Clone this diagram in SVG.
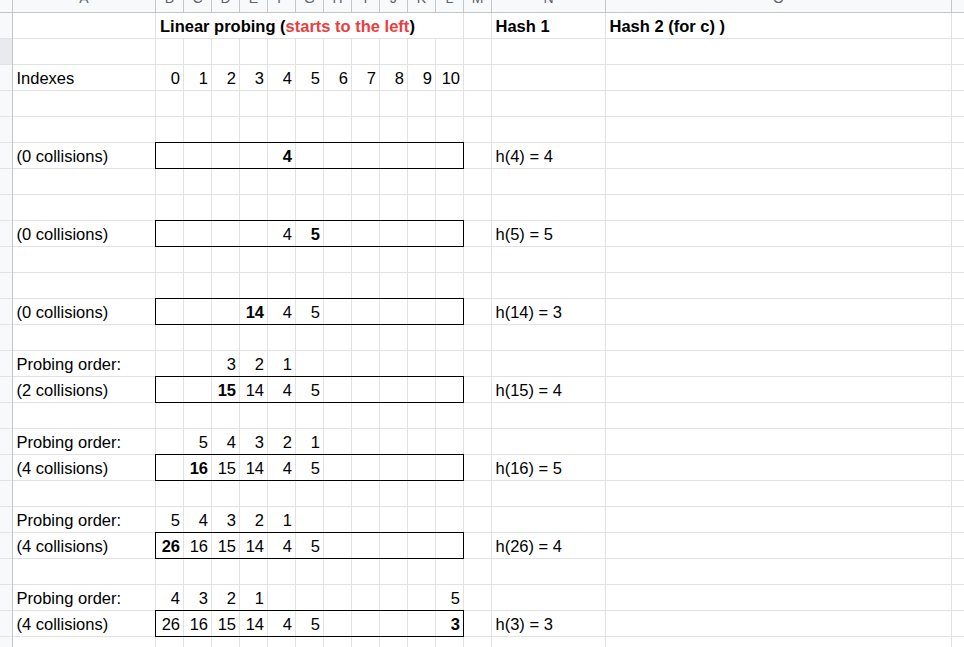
<svg xmlns="http://www.w3.org/2000/svg" width="964" height="647" viewBox="0 0 964 647">
<style>
text{font-family:"Liberation Sans",Arial,sans-serif;font-size:16.5px;fill:#000}
.b{font-weight:bold}
.r{text-anchor:end}
.red{fill:#ea3e3e}
.hd{font-size:14px;fill:#5f6368;text-anchor:middle}
.g{stroke:#e2e2e2;stroke-width:1;fill:none}
.h{stroke:#c4c7c5;stroke-width:1;fill:none}
.box{stroke:#000;stroke-width:1;fill:none}
</style>
<rect x="0" y="0" width="964" height="647" fill="#fff"/>
<!-- headers background -->
<rect x="0" y="0" width="964" height="12.5" fill="#f8f9fa"/>
<rect x="0" y="0" width="12.5" height="647" fill="#f8f9fa"/>
<rect x="0" y="38.5" width="12.5" height="26" fill="#e8eaed"/>
<g id="col-letters">
<text class="hd" x="84" y="3">A</text>
<text class="hd" x="169.5" y="3">B</text>
<text class="hd" x="197.5" y="3">C</text>
<text class="hd" x="225.5" y="3">D</text>
<text class="hd" x="253.5" y="3">E</text>
<text class="hd" x="281.5" y="3">F</text>
<text class="hd" x="309.5" y="3">G</text>
<text class="hd" x="337.5" y="3">H</text>
<text class="hd" x="365.5" y="3">I</text>
<text class="hd" x="393.5" y="3">J</text>
<text class="hd" x="421.5" y="3">K</text>
<text class="hd" x="449.5" y="3">L</text>
<text class="hd" x="477.5" y="3">M</text>
<text class="hd" x="548.5" y="3">N</text>
<text class="hd" x="778.5" y="3">O</text>
</g>
<g id="grid">
<path class="g" d="M12.5 38.5H964M12.5 64.5H964M12.5 90.5H964M12.5 116.5H964M12.5 142.5H964M12.5 168.5H964M12.5 194.5H964M12.5 220.5H964M12.5 246.5H964M12.5 272.5H964M12.5 298.5H964M12.5 324.5H964M12.5 350.5H964M12.5 376.5H964M12.5 402.5H964M12.5 428.5H964M12.5 454.5H964M12.5 480.5H964M12.5 506.5H964M12.5 532.5H964M12.5 558.5H964M12.5 584.5H964M12.5 610.5H964M12.5 636.5H964"/>
<path class="g" d="M0 38.5H12.5M0 64.5H12.5M0 90.5H12.5M0 116.5H12.5M0 142.5H12.5M0 168.5H12.5M0 194.5H12.5M0 220.5H12.5M0 246.5H12.5M0 272.5H12.5M0 298.5H12.5M0 324.5H12.5M0 350.5H12.5M0 376.5H12.5M0 402.5H12.5M0 428.5H12.5M0 454.5H12.5M0 480.5H12.5M0 506.5H12.5M0 532.5H12.5M0 558.5H12.5M0 584.5H12.5M0 610.5H12.5M0 636.5H12.5" stroke="#dadce0"/>
<path class="g" d="M155.5 12.5V647M463.5 12.5V647M491.5 12.5V647M605.5 12.5V647M951.5 12.5V647"/>
<path class="g" d="M183.5 38.5V647M211.5 38.5V647M239.5 38.5V647M267.5 38.5V647M295.5 38.5V647M323.5 38.5V647M351.5 38.5V647M379.5 38.5V647M407.5 38.5V647M435.5 38.5V647"/>
<path class="h" d="M155.5 0V12.5M183.5 0V12.5M211.5 0V12.5M239.5 0V12.5M267.5 0V12.5M295.5 0V12.5M323.5 0V12.5M351.5 0V12.5M379.5 0V12.5M407.5 0V12.5M435.5 0V12.5M463.5 0V12.5M491.5 0V12.5M605.5 0V12.5M951.5 0V12.5"/>
<path class="h" d="M0 12.5H964M12.5 0V647"/>
</g>
<g id="header">
<text class="b" x="160" y="32">Linear probing (<tspan class="red">starts to the left</tspan>)</text>
<text class="b" x="495.5" y="32">Hash 1</text>
<text class="b" x="609.5" y="32">Hash 2 (for c) )</text>
</g>
<g id="indexes">
<text x="16.5" y="84">Indexes</text>
<text class="r" x="180" y="84">0</text><text class="r" x="208" y="84">1</text><text class="r" x="236" y="84">2</text><text class="r" x="264" y="84">3</text><text class="r" x="292" y="84">4</text><text class="r" x="320" y="84">5</text><text class="r" x="348" y="84">6</text><text class="r" x="376" y="84">7</text><text class="r" x="404" y="84">8</text><text class="r" x="432" y="84">9</text><text class="r" x="460" y="84">10</text>
</g>
<g id="step1">
<text x="16.5" y="162">(0 collisions)</text>
<rect class="box" x="155.5" y="142.5" width="308" height="26"/>
<text class="r b" x="292" y="162">4</text>
<text x="495.5" y="162">h(4) = 4</text>
</g>
<g id="step2">
<text x="16.5" y="240">(0 collisions)</text>
<rect class="box" x="155.5" y="220.5" width="308" height="26"/>
<text class="r" x="292" y="240">4</text><text class="r b" x="320" y="240">5</text>
<text x="495.5" y="240">h(5) = 5</text>
</g>
<g id="step3">
<text x="16.5" y="318">(0 collisions)</text>
<rect class="box" x="155.5" y="298.5" width="308" height="26"/>
<text class="r b" x="264" y="318">14</text><text class="r" x="292" y="318">4</text><text class="r" x="320" y="318">5</text>
<text x="495.5" y="318">h(14) = 3</text>
</g>
<g id="step4">
<text x="16.5" y="370">Probing order:</text>
<text class="r" x="236" y="370">3</text><text class="r" x="264" y="370">2</text><text class="r" x="292" y="370">1</text>
<text x="16.5" y="396">(2 collisions)</text>
<rect class="box" x="155.5" y="376.5" width="308" height="26"/>
<text class="r b" x="236" y="396">15</text><text class="r" x="264" y="396">14</text><text class="r" x="292" y="396">4</text><text class="r" x="320" y="396">5</text>
<text x="495.5" y="396">h(15) = 4</text>
</g>
<g id="step5">
<text x="16.5" y="448">Probing order:</text>
<text class="r" x="208" y="448">5</text><text class="r" x="236" y="448">4</text><text class="r" x="264" y="448">3</text><text class="r" x="292" y="448">2</text><text class="r" x="320" y="448">1</text>
<text x="16.5" y="474">(4 collisions)</text>
<rect class="box" x="155.5" y="454.5" width="308" height="26"/>
<text class="r b" x="208" y="474">16</text><text class="r" x="236" y="474">15</text><text class="r" x="264" y="474">14</text><text class="r" x="292" y="474">4</text><text class="r" x="320" y="474">5</text>
<text x="495.5" y="474">h(16) = 5</text>
</g>
<g id="step6">
<text x="16.5" y="526">Probing order:</text>
<text class="r" x="180" y="526">5</text><text class="r" x="208" y="526">4</text><text class="r" x="236" y="526">3</text><text class="r" x="264" y="526">2</text><text class="r" x="292" y="526">1</text>
<text x="16.5" y="552">(4 collisions)</text>
<rect class="box" x="155.5" y="532.5" width="308" height="26"/>
<text class="r b" x="180" y="552">26</text><text class="r" x="208" y="552">16</text><text class="r" x="236" y="552">15</text><text class="r" x="264" y="552">14</text><text class="r" x="292" y="552">4</text><text class="r" x="320" y="552">5</text>
<text x="495.5" y="552">h(26) = 4</text>
</g>
<g id="step7">
<text x="16.5" y="604">Probing order:</text>
<text class="r" x="180" y="604">4</text><text class="r" x="208" y="604">3</text><text class="r" x="236" y="604">2</text><text class="r" x="264" y="604">1</text><text class="r" x="460" y="604">5</text>
<text x="16.5" y="630">(4 collisions)</text>
<rect class="box" x="155.5" y="610.5" width="308" height="26"/>
<text class="r" x="180" y="630">26</text><text class="r" x="208" y="630">16</text><text class="r" x="236" y="630">15</text><text class="r" x="264" y="630">14</text><text class="r" x="292" y="630">4</text><text class="r" x="320" y="630">5</text><text class="r b" x="460" y="630">3</text>
<text x="495.5" y="630">h(3) = 3</text>
</g>
</svg>
